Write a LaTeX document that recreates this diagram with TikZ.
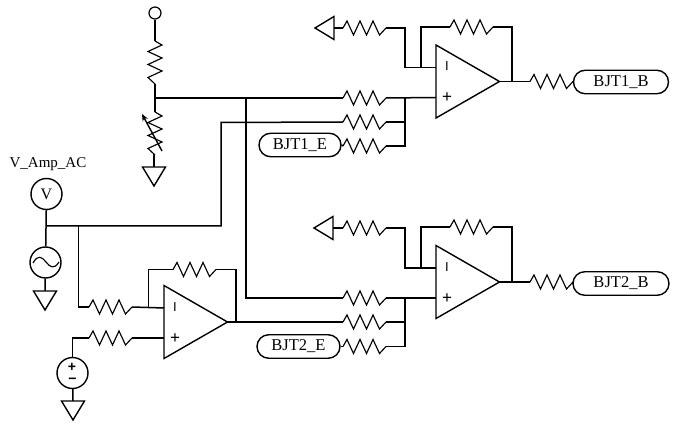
\documentclass[tikz,border=0pt]{standalone}
\usepackage{fontspec}
\setmainfont{Liberation Serif}
\newfontfamily\signfont{Liberation Sans}
\usetikzlibrary{shapes.misc,arrows.meta}
\tikzset{
  every path/.style={line join=miter},
  wire/.style={line width=1.5pt,black},
  part/.style={line width=1.4pt,black,fill=white},
  thinpart/.style={line width=1.15pt,black},
  pill/.style={draw,line width=1.4pt,rounded rectangle,minimum width=#1,minimum height=23.5pt,inner sep=0pt,font=\fontsize{16.5}{18}\selectfont},
  meter/.style={draw,line width=1.4pt,circle,minimum size=31pt,inner sep=0pt,font=\fontsize{16}{18}\selectfont},
  sign/.style={inner sep=0pt,font=\signfont\fontsize{17}{17}\selectfont},
  pics/res/.style={code={
    \coordinate (-a) at (0,0);
    \coordinate (-b) at (43,0);
    \draw[thinpart] (-a) -- (4,-7) -- (10.5,7) -- (17,-7) -- (23.5,7) -- (30,-7) -- (36.5,7) -- (-b);
  }},
  pics/gnd/.style={code={
    \coordinate (-t) at (0,0);
    \draw[part] (-11.5,0) -- (11.5,0) -- (0,19) -- cycle;
  }},
  pics/opamp/.style={code={
    \coordinate (-m) at (0,-14);
    \coordinate (-p) at (0,16);
    \coordinate (-o) at (63.5,0);
    \draw[part] (0,-36.5) -- (0,36.5) -- (63.5,0) -- cycle;
    \node[sign,font=\signfont\fontsize{13}{13}\selectfont] at (11,-15) {I};
    \node[sign] at (11,16.5) {+};
  }},
}
\begin{document}
\begin{tikzpicture}[x=1pt,y=-1pt]
\useasboundingbox[fill=white] (0,0) rectangle (678,427);

% --- divider
\node[draw,line width=1.2pt,circle,minimum size=12pt,inner sep=0pt] (top) at (155,13) {};
\pic[rotate=-90] (rt) at (155,41) {res};
\pic[rotate=-90] (rv) at (155,112) {res};
\pic (gt) at (154,167) {gnd};
\coordinate (jt) at (155,98);
\coordinate (jv) at (246,98);
\draw[wire] (top) -- (rt-a);
\draw[wire] (rt-b) -- (rv-a);
\draw[wire] (rv-b) -- (154,155) -- (gt-t);
\draw[line width=1.4pt,-{Stealth[length=7pt,width=6pt]}] (162,151) -- (142,114);

% --- op amp 1
\pic (oa1) at (436,81.5) {opamp};
\pic (g1) at (334,28) [rotate=-90] {gnd};
\pic (r1g) at (343,28) {res};
\pic (r1f) at (450,27) {res};
\pic (r1p) at (343,98) {res};
\pic (r1q) at (343,122) {res};
\pic (r1e) at (343,146) {res};
\pic (r1o) at (530,81.5) {res};
\node[pill=82pt] (e1) at (300,145) {BJT1\_E};
\node[pill=95pt] (b1) at (621,82) {BJT1\_B};
\coordinate (j1m) at (405,67.5);
\coordinate (j1f) at (421,67.5);
\coordinate (j1p) at (405,97.5);
\coordinate (j1o) at (512,81.5);
\draw[wire] (g1-t) -- (r1g-a);
\draw[wire] (r1g-b) -| (j1m) -- (oa1-m);
\draw[wire] (j1f) |- (r1f-a);
\draw[wire] (r1f-b) -| (j1o);
\draw[wire] (oa1-o) -- (r1o-a);
\draw[wire] (r1o-b) -- (b1.west);
\draw[wire] (r1p-b) -- (oa1-p);
\draw[wire] (j1p) |- (r1e-b);
\draw[wire] (r1q-b) -| (j1p);
\draw[wire] (e1.east) -- (r1e-a);

% --- op amp 2
\pic (oa2) at (436,282) {opamp};
\pic (g2) at (333,228) [rotate=-90] {gnd};
\pic (r2g) at (343,228) {res};
\pic (r2f) at (450,227) {res};
\pic (r2p) at (343,298) {res};
\pic (r2q) at (343,322) {res};
\pic (r2e) at (343,346.5) {res};
\pic (r2o) at (530,282) {res};
\node[pill=83pt] (e2) at (298.5,346.5) {BJT2\_E};
\node[pill=96pt] (b2) at (621,283.5) {BJT2\_B};
\coordinate (j2m) at (405,268);
\coordinate (j2f) at (421,268);
\coordinate (j2p) at (405,298);
\coordinate (j2o) at (512,282);
\draw[wire] (g2-t) -- (r2g-a);
\draw[wire] (r2g-b) -| (j2m) -- (oa2-m);
\draw[wire] (j2f) |- (r2f-a);
\draw[wire] (r2f-b) -| (j2o);
\draw[wire] (oa2-o) -- (r2o-a);
\draw[wire] (r2o-b) -- (b2.west);
\draw[wire] (r2p-b) -- (oa2-p);
\draw[wire] (j2p) |- (r2e-b);
\draw[wire] (r2q-b) -| (j2p);
\draw[wire] (e2.east) -- (r2e-a);

% --- op amp 3 and sources
\pic (oa3) at (164,322) {opamp};
\pic (r3m) at (89,307) {res};
\pic (r3p) at (89,338) {res};
\pic (r3f) at (173,269.5) {res};
\coordinate (j3f) at (148.5,307);
\coordinate (j3o) at (236,322);
\coordinate (jac) at (46,226);
\coordinate (jin) at (78.5,226);
\node[meter] (vm) at (46.5,194) {V};
\node[font=\fontsize{15}{17}\selectfont,inner sep=0pt] (vl) at (48,164) {V\_Amp\_AC};
\node[meter] (ac) at (45.5,262.5) {};
\draw[thinpart] (33,263) .. controls (38,254) and (42,257) .. (46,262) .. controls (50,267) and (54,270) .. (59,262);
\pic (g4) at (45,291) {gnd};
\node[meter] (dc) at (72.5,373) {};
\node[sign,font=\signfont\bfseries\fontsize{14}{14}\selectfont] at (72,367) {+};
\node[sign,font=\signfont\bfseries\fontsize{14}{14}\selectfont] at (72.5,381) {−};
\pic (g5) at (73,401) {gnd};
\draw[wire] (vm) -- (ac);
\draw[wire] (ac) -- (g4-t);
\draw[wire] (jac) -- (221,226) -- (221,122.5) -- (r1q-a);
\draw[wire] (jin) |- (r3m-a);
\draw[wire] (r3m-b) -- (oa3-m);
\draw[wire] (j3f) |- (r3f-a);
\draw[wire] (r3f-b) -| (j3o);
\draw[wire] (r3p-a) -| (dc);
\draw[wire] (r3p-b) -- (oa3-p);
\draw[wire] (dc) -- (g5-t);
\draw[wire] (oa3-o) -- (r2q-a);
\draw[wire] (jt) -- (r1p-a);
\draw[wire] (jv) |- (r2p-a);
\end{tikzpicture}
\end{document}
